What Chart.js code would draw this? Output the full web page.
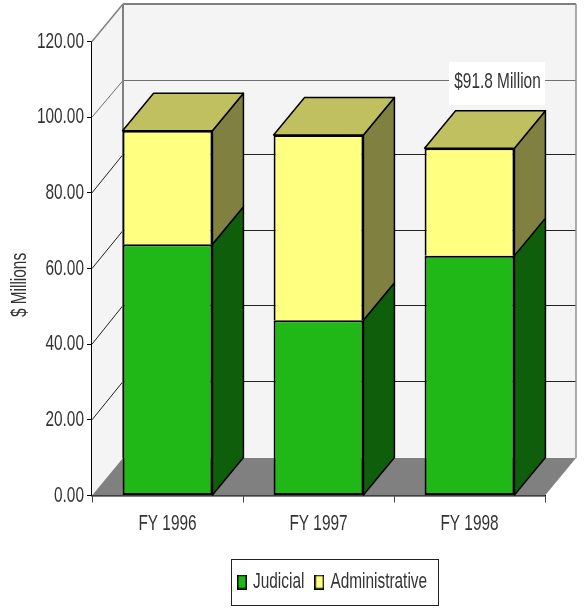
<!DOCTYPE html>
<html>
<head>
<meta charset="utf-8">
<style>html,body{margin:0;padding:0;background:#fff}canvas{display:block}</style>
<script src="https://cdn.jsdelivr.net/npm/chart.js@4"></script>
</head>
<body>
<canvas id="c" width="584" height="608"></canvas>
<script>
const categories = ['FY 1996', 'FY 1997', 'FY 1998'];
const judicial = [66.4, 46.3, 63.4];
const administrative = [30.0, 49.0, 28.4];
const seriesNames = ['Judicial', 'Administrative'];
const yAxisTitle = '$ Millions';
const callout = '$91.8 Million';

const FONT = '"Liberation Sans"';
const SIZE = 22;
const SQUEEZE = 0.7;
const TEXT = '#333';
const DX = 31, DY = 37.5;

const canvas = document.getElementById('c');
const context = canvas.getContext('2d');
// The reference uses a very condensed face: squeeze all real text horizontally.
const nativeFill = context.fillText.bind(context);
const nativeMeasure = context.measureText.bind(context);
context.fillText = (t, x, y) => nativeFill(t, x, y, Math.max(1, nativeMeasure(t).width * SQUEEZE));
context.measureText = t => ({ width: nativeMeasure(t).width * SQUEEZE });

function poly(ctx, pts, fill, stroke, lw) {
  ctx.beginPath();
  pts.forEach((p, i) => i ? ctx.lineTo(p[0], p[1]) : ctx.moveTo(p[0], p[1]));
  ctx.closePath();
  if (fill) { ctx.fillStyle = fill; ctx.fill(); }
  if (stroke) { ctx.strokeStyle = stroke; ctx.lineWidth = lw || 1; ctx.lineJoin = 'round'; ctx.stroke(); }
}
function seg(ctx, a, b, color, lw) {
  ctx.beginPath(); ctx.moveTo(a[0], a[1]); ctx.lineTo(b[0], b[1]);
  ctx.strokeStyle = color; ctx.lineWidth = lw; ctx.stroke();
}
function swatch(color) {
  const s = document.createElement('canvas');
  s.width = 10; s.height = 15;
  const g = s.getContext('2d');
  g.fillStyle = '#000'; g.fillRect(0, 0, 10, 15);
  g.fillStyle = color; g.fillRect(1.5, 1.5, 7, 12);
  return s;
}

const threeD = {
  id: 'threeD',
  afterLayout(c) {
    const l = c.legend, h = l.height;
    l.left = 227; l.right = 584;
    l.top = 556; l.bottom = l.top + h;
  },
  beforeDatasetsDraw(c) {
    const ctx = c.ctx, a = c.chartArea, y = c.scales.y;
    const L = a.left, R = a.right, T = a.top, B = a.bottom;
    ctx.save();
    poly(ctx, [[L+DX,T-DY],[R+DX,T-DY],[R+DX,B-DY],[L+DX,B-DY]], '#f4f4f4');
    poly(ctx, [[L,T],[L+DX,T-DY],[L+DX,B-DY],[L,B]], '#f4f4f4');
    poly(ctx, [[L,B],[L+DX,B-DY],[R+DX,B-DY],[R,B]], '#808080');
    y.ticks.forEach(t => {
      if (t.value === 0 || t.value === 120) return;
      const p = y.getPixelForValue(t.value);
      const wy = Math.round(p - DY - (t.value < 100 ? 1.5 : 0)) + 0.5;
      const col = t.value === 100 ? '#707070' : '#222';
      seg(ctx, [L,p], [L+DX,wy], col, 1);
      seg(ctx, [L+DX,wy], [R+DX,wy], col, 1);
    });
    seg(ctx, [L,T], [L+DX,T-DY], '#808080', 1.5);
    seg(ctx, [L+DX,T-DY], [R+DX,T-DY], '#808080', 2);
    seg(ctx, [L+DX,T-DY], [L+DX,B-DY], '#808080', 2);
    seg(ctx, [R+DX,T-DY], [R+DX,B-DY], '#909090', 1.5);
    const side = ['#0f5e0c', '#808040'];
    [0,1].forEach(d => {
      c.getDatasetMeta(d).data.forEach(b => {
        const x1 = b.x + b.width/2, x0 = b.x - b.width/2;
        poly(ctx, [[x1,b.y],[x1+DX,b.y-DY],[x1+DX,b.base-DY],[x1,b.base]], side[d], '#000', 1.5);
        if (d === 1) poly(ctx, [[x0,b.y],[x0+DX,b.y-DY],[x1+DX,b.y-DY],[x1,b.y]], '#c0c060', '#000', 1.5);
      });
    });
    ctx.restore();
  },
  afterDraw(c) {
    const ctx = c.ctx;
    ctx.save();
    ctx.strokeStyle = '#222'; ctx.lineWidth = 1;
    ctx.strokeRect(231.5, 559.5, 207, 46);
    ctx.fillStyle = TEXT;
    ctx.font = SIZE + 'px ' + FONT;
    ctx.textAlign = 'center'; ctx.textBaseline = 'middle';
    ctx.save(); ctx.translate(20, 285); ctx.rotate(-Math.PI/2);
    ctx.fillText(yAxisTitle, 0, 0); ctx.restore();
    ctx.fillStyle = '#fff';
    ctx.fillRect(449, 62, 96, 43);
    ctx.fillStyle = TEXT;
    ctx.fillText(callout, 497.5, 82);
    ctx.restore();
  }
};

new Chart(context, {
  type: 'bar',
  plugins: [threeD],
  data: {
    labels: categories,
    datasets: [
      { label: seriesNames[0], data: judicial, backgroundColor: '#20b816', borderColor: '#000', borderWidth: 2, borderSkipped: false },
      { label: seriesNames[1], data: administrative, backgroundColor: '#ffff80', borderColor: '#000', borderWidth: 2, borderSkipped: 'bottom' }
    ]
  },
  options: {
    responsive: false,
    animation: false,
    devicePixelRatio: 1,
    layout: { autoPadding: false, padding: { left: 0, top: 41.5, right: 39, bottom: 15.5 } },
    datasets: { bar: { categoryPercentage: 1, barPercentage: 0.595 } },
    plugins: {
      tooltip: { enabled: false },
      title: { display: false },
      legend: {
        position: 'bottom',
        align: 'start',
        labels: {
          boxWidth: 0.01, boxHeight: 15, padding: 15, usePointStyle: true, pointStyleWidth: 0.01,
          color: TEXT, font: { family: FONT, size: SIZE },
          generateLabels(c) {
            return c.data.datasets.map((d, i) => ({
              text: d.label, pointStyle: swatch(d.backgroundColor), datasetIndex: i, fontColor: TEXT,
              fillStyle: d.backgroundColor, strokeStyle: '#000', lineWidth: 0
            }));
          }
        }
      }
    },
    scales: {
      x: {
        stacked: true,
        afterFit(s) { s.height = 50; },
        grid: { drawOnChartArea: false, drawTicks: true, tickLength: 7, tickColor: '#444', offset: true },
        border: { color: '#000', width: 1.5 },
        ticks: { color: TEXT, padding: 8.5, maxRotation: 0, font: { family: FONT, size: SIZE } }
      },
      y: {
        stacked: true,
        min: 0, max: 120,
        afterFit(s) { s.width = 92; },
        grid: { drawOnChartArea: false, drawTicks: true, tickLength: 5, tickColor: '#000' },
        border: { color: '#000', width: 1.5 },
        ticks: { stepSize: 20, color: TEXT, padding: 3, font: { family: FONT, size: SIZE }, callback: v => v.toFixed(2) }
      }
    }
  }
});
</script>
</body>
</html>
